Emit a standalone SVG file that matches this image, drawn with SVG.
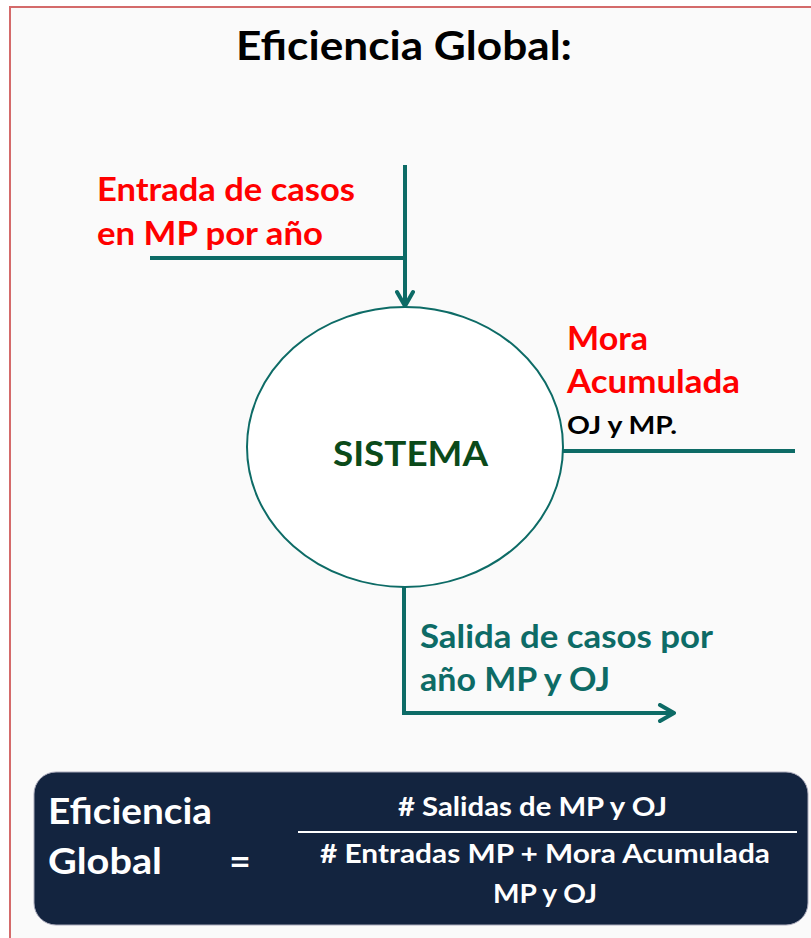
<svg xmlns="http://www.w3.org/2000/svg" width="811" height="938" viewBox="0 0 811 938">
<defs>
<style>
.t{font-family:Lato,"Open Sans","Liberation Sans",sans-serif;font-weight:bold}
.red{fill:#ff0000}
.teal{fill:#0d6b66}
.w{fill:#ffffff}
.conn{stroke:#0d6b66;stroke-width:4;fill:none}
</style>
<marker id="ah" viewBox="0 0 20 20" refX="18" refY="10" markerWidth="20" markerHeight="20" markerUnits="userSpaceOnUse" orient="auto">
<path d="M4,2 L18,10 L4,18" fill="none" stroke="#0d6b66" stroke-width="4" stroke-linecap="round" stroke-linejoin="round"/>
</marker>
</defs>
<rect x="0" y="0" width="811" height="938" fill="#ffffff"/>
<rect x="10" y="7" width="810" height="940" fill="#fafafa" stroke="#d46a6a" stroke-width="2"/>
<text class="t" x="236" y="60" font-size="41" textLength="336" lengthAdjust="spacingAndGlyphs" fill="#000">Eficiencia Global:</text>
<g id="connectors">
<path class="conn" d="M150,258 H405"/>
<path class="conn" d="M405,165 V306" marker-end="url(#ah)"/>
<path class="conn" d="M563,451 H795"/>
<path class="conn" d="M404,580 V713 H674" marker-end="url(#ah)"/>
</g>
<g id="sistema">
<ellipse cx="405" cy="447" rx="158" ry="140" fill="#ffffff" stroke="#0d6b66" stroke-width="2"/>
<text class="t" x="333" y="466" font-size="34" textLength="155" lengthAdjust="spacingAndGlyphs" fill="#0b4a1a">SISTEMA</text>
</g>
<g id="entrada">
<text class="t red" x="97" y="201" font-size="32" textLength="258" lengthAdjust="spacingAndGlyphs">Entrada de casos</text>
<text class="t red" x="97" y="245" font-size="32" textLength="226" lengthAdjust="spacingAndGlyphs">en MP por año</text>
</g>
<g id="mora">
<text class="t red" x="567" y="350" font-size="32" textLength="81" lengthAdjust="spacingAndGlyphs">Mora</text>
<text class="t red" x="567" y="393" font-size="32" textLength="173" lengthAdjust="spacingAndGlyphs">Acumulada</text>
<text class="t" x="567" y="434" font-size="24" textLength="110" lengthAdjust="spacingAndGlyphs" fill="#000">OJ y MP.</text>
</g>
<g id="salida">
<text class="t teal" x="420" y="648" font-size="32" textLength="293" lengthAdjust="spacingAndGlyphs">Salida de casos por</text>
<text class="t teal" x="420" y="691" font-size="32" textLength="190" lengthAdjust="spacingAndGlyphs">año MP y OJ</text>
</g>
<g id="formula">
<rect x="34" y="772" width="774" height="153" rx="22" fill="#13243f" stroke="#aab" stroke-width="1"/>
<text class="t w" x="48" y="824" font-size="37" textLength="164" lengthAdjust="spacingAndGlyphs">Eficiencia</text>
<text class="t w" x="48" y="874" font-size="37" textLength="114" lengthAdjust="spacingAndGlyphs">Global</text>
<text class="t w" x="240" y="874" font-size="37" text-anchor="middle">=</text>
<line x1="298" y1="832" x2="797" y2="832" stroke="#ffffff" stroke-width="2"/>
<text class="t w" x="398" y="816" font-size="27" textLength="269" lengthAdjust="spacingAndGlyphs"># Salidas de MP y OJ</text>
<text class="t w" x="320" y="863" font-size="27" textLength="450" lengthAdjust="spacingAndGlyphs"># Entradas MP + Mora Acumulada</text>
<text class="t w" x="493" y="903" font-size="27" textLength="104" lengthAdjust="spacingAndGlyphs">MP y OJ</text>
</g>
</svg>
